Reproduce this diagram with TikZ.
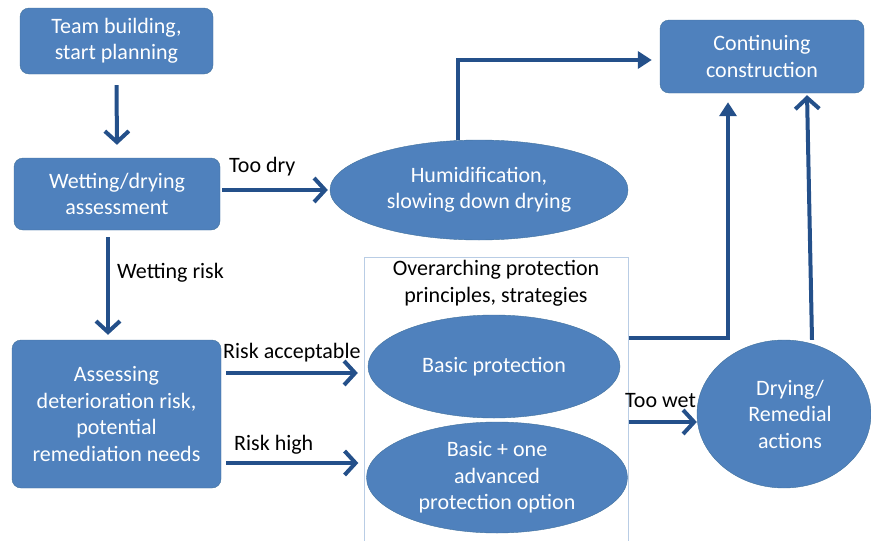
\documentclass[tikz,border=0pt]{standalone}
\usepackage{fontspec}
\setmainfont{Carlito}
\usetikzlibrary{arrows.meta,shapes.geometric}
\definecolor{boxblue}{HTML}{4F81BD}
\definecolor{boxedge}{HTML}{41719C}
\definecolor{flowblue}{HTML}{24508A}
\definecolor{framecol}{HTML}{B9CDE5}
\newcommand{\txt}{\fontsize{22}{26.5}\selectfont}

\begin{document}
\begin{tikzpicture}[x=1pt,y=-1pt,
    box/.style={draw=boxedge, fill=boxblue, rounded corners=9pt, text=white, align=center, inner sep=0pt, font=\txt},
    oval/.style={ellipse, draw=boxedge, fill=boxblue, text=white, align=center, inner sep=0pt, font=\txt},
    lbl/.style={inner sep=0pt, font=\txt},
    flow/.style={draw=flowblue, line width=4pt, -{Straight Barb[length=11pt, width=24pt]}},
    flowtri/.style={draw=flowblue, line width=4pt, -{Triangle[length=14pt, width=17pt]}}]
    \useasboundingbox (0,0) rectangle (871,541);

    % left column
    \node[box, minimum width=193pt, minimum height=66pt] (team) at (116.5,41) {Team building,\\start planning};
    \node[box, minimum width=206pt, minimum height=72pt] (assess1) at (117,194) {Wetting/drying\\assessment};
    \node[box, minimum width=209pt, minimum height=148pt] (assess2) at (116.5,414) {Assessing\\deterioration risk,\\potential\\remediation needs};

    % top row
    \node[oval, minimum width=298pt, minimum height=100pt] (humid) at (479,190) {Humidification,\\slowing down drying};
    \node[box, minimum width=204pt, minimum height=73pt] (cont) at (762,56.5) {Continuing\\construction};

    % protection frame
    \node[draw=framecol, line width=1pt, minimum width=264pt, minimum height=286pt, inner sep=0pt] (frame) at (496,400) {};
    \node[lbl, align=center] (principles) at (496,283) {Overarching protection\\principles, strategies};
    \node[oval, minimum width=252pt, minimum height=103pt] (basic) at (494,366.5) {Basic protection};
    \node[oval, minimum width=261pt, minimum height=111pt] (advanced) at (497,477.5) {Basic + one\\advanced\\protection option};

    \node[oval, minimum width=174pt, minimum height=148pt] (drying) at (784,414) {\hspace*{12pt}Drying/\\\hspace*{12pt}Remedial\\\hspace*{12pt}actions};

    % connectors
    \draw[flow, shorten <=11pt, shorten >=13pt] (team.south) -- (assess1.north);
    \draw[flow, shorten <=2pt, shorten >=2pt] (assess1.east |- humid.west) -- (humid.west);
    \draw[flow, shorten <=7pt, shorten >=5pt] ([xshift=-9pt]assess1.south) -- ([xshift=-8.5pt]assess2.north);
    \draw[flowtri, shorten >=8pt] ([xshift=-21pt]humid.north) |- ([yshift=-3.5pt]cont.west);
    \draw[flow, shorten <=5pt, shorten >=10pt] ([yshift=41pt]assess2.east) -- ([yshift=-6.5pt]basic.west);
    \draw[flow, shorten <=5pt, shorten >=8pt] ([yshift=-49pt]assess2.east) -- ([yshift=14.5pt]advanced.west);
    \draw[flowtri, shorten >=9pt] ([yshift=62pt]frame.east) -| ([xshift=-34pt]cont.south);
    \draw[flow, shorten >=2pt] ([xshift=28pt]drying.north) -- ([xshift=45pt]cont.south);
    \draw[flow] ([yshift=-22pt]frame.east) -- ([yshift=-8pt]drying.west);

    % labels
    \node[lbl, anchor=west] (toodry) at (229,167) {Too dry};
    \node[lbl, anchor=west] (wetrisk) at (117,273) {Wetting risk};
    \node[lbl, anchor=west] (riskok) at (223,353) {Risk acceptable};
    \node[lbl, anchor=west] (riskhigh) at (234,445) {Risk high};
    \node[lbl, anchor=west] (toowet) at (625,401) {Too wet};
\end{tikzpicture}
\end{document}
